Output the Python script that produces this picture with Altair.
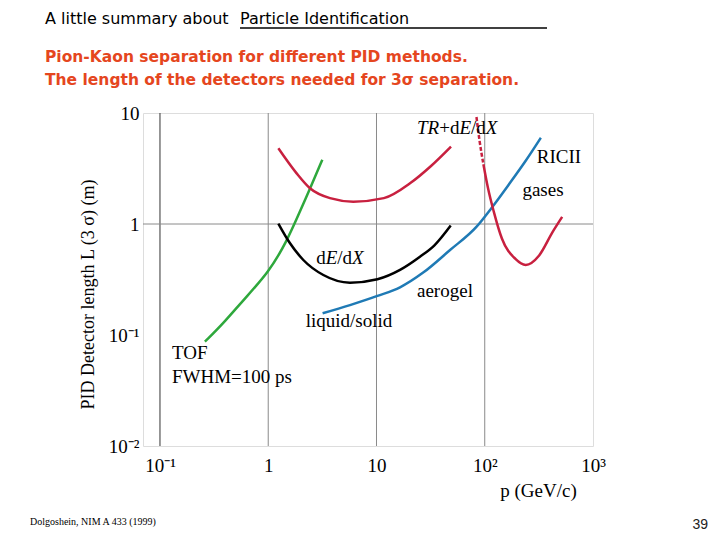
import altair as alt
import pandas as pd

# ---------------- data (p in GeV/c, L in m) ----------------
tof_p = [0.26, 0.384, 0.588, 1.02, 1.48, 1.96, 2.43, 3.16]
tof_L = [0.087, 0.127, 0.206, 0.372, 0.694, 1.29, 2.08, 3.80]

trd_p = [1.24, 1.83, 2.43, 3.72, 6.11, 11.7, 20.7, 31.9, 48.8]
trd_L = [4.81, 2.86, 2.10, 1.71, 1.59, 1.71, 2.35, 3.33, 4.98]

dedx_p = [1.24, 1.59, 2.11, 3.23, 5.69, 10.2, 16.5, 25.2, 34.3, 48.5]
dedx_L = [1.01, 0.67, 0.474, 0.347, 0.296, 0.318, 0.386, 0.507, 0.643, 0.97]

cher_p = [3.18, 5.69, 10.2, 16.5, 27.0, 47.8, 84.1, 112, 167, 239, 330]
cher_L = [0.157, 0.186, 0.225, 0.269, 0.365, 0.583, 0.946, 1.34, 2.27, 3.71, 5.98]

gas_dash_p = [83.9, 89.3, 97.2]
gas_dash_L = [9.2, 5.73, 3.46]
gas_p = [97.2, 107, 121, 144, 192, 239, 318, 424, 519]
gas_L = [3.46, 2.12, 1.30, 0.74, 0.485, 0.428, 0.521, 0.85, 1.16]

grid_p = [0.1, 1, 10, 100]
grid_L = [1]

x_ticks = [0.1, 1, 10, 100, 1000]
y_ticks = [0.01, 0.1, 1, 10]

simple_labels = ["RICII", "gases", "aerogel", "liquid/solid"]
simple_p = [485, 345, 42.9, 5.57]
simple_L = [4.02, 2.02, 0.249, 0.134]

left_labels = ["TOF", "FWHM=100 ps"]
left_p = [0.129, 0.129]
left_L = [0.0689, 0.0419]

heading_a = "A little summary about"
heading_b = "Particle Identification"
sub_lines = ["Pion-Kaon separation for different PID methods.",
             "The length of the detectors needed for 3σ separation."]
footnote = "Dolgoshein, NIM A 433 (1999)"
page_no = "39"

SERIF = "Liberation Serif"
FS = 19

xs = alt.Scale(type="log", domain=[0.0697, 1000], nice=False)
ys = alt.Scale(type="log", domain=[0.01, 10], nice=False)

xaxis = alt.Axis(
    values=x_ticks, grid=False, ticks=False, domain=False, labelFlush=False,
    labelOverlap=False,
    labelExpr="datum.value == 0.1 ? '10⁻¹' : datum.value == 1 ? '1' : datum.value == 10 ? '10' : datum.value == 100 ? '10²' : '10³'",
    labelFont=SERIF, labelFontSize=FS, labelColor="black", labelPadding=10,
    title="p (GeV/c)", titleFont=SERIF, titleFontSize=FS, titleFontWeight="normal",
    titleColor="black", titleX=395, titleY=44, titleAlign="center", titleBaseline="middle",
)
yaxis = alt.Axis(
    values=y_ticks, grid=False, ticks=False, domain=False, labelFlush=False,
    labelOverlap=False,
    labelExpr="datum.value == 0.01 ? '10⁻²' : datum.value == 0.1 ? '10⁻¹' : datum.value == 1 ? '1' : '10'",
    labelFont=SERIF, labelFontSize=FS, labelColor="black", labelPadding=4,
    title="PID Detector length L (3 σ)  (m)", titleFont=SERIF, titleFontSize=18,
    titleFontWeight="normal", titleColor="black", titleX=-55, titleY=181,
    titleAngle=270, titleAlign="center", titleBaseline="middle",
)


def X(field="p"):
    return alt.X(f"{field}:Q", scale=xs, axis=xaxis)


def Y(field="L"):
    return alt.Y(f"{field}:Q", scale=ys, axis=yaxis)


def curve(ps, Ls, color, dash=None, interp="monotone"):
    df = pd.DataFrame({"p": ps, "L": Ls})
    kw = dict(color=color, strokeWidth=2.5, interpolate=interp)
    if dash:
        kw["strokeDash"] = dash
    return alt.Chart(df).mark_line(**kw).encode(x=X(), y=Y())


layers = []

# gridlines
layers.append(
    alt.Chart(pd.DataFrame({"p": grid_p[:1]})).mark_rule(color="#333", strokeWidth=1).encode(x=X())
)
layers.append(
    alt.Chart(pd.DataFrame({"p": grid_p[1:]})).mark_rule(color="#8a8a8a", strokeWidth=1).encode(x=X())
)
layers.append(
    alt.Chart(pd.DataFrame({"L": grid_L})).mark_rule(color="#8a8a8a", strokeWidth=1).encode(y=Y())
)

RED = "#c8203f"
layers += [
    curve(tof_p, tof_L, "#2ea83c", interp="basis"),
    curve(trd_p, trd_L, RED),
    curve(dedx_p, dedx_L, "black"),
    curve(cher_p, cher_L, "#1f7ab5"),
    curve(gas_dash_p, gas_dash_L, RED, dash=[4, 2]),
    curve(gas_p, gas_L, RED),
]

# simple labels
layers.append(
    alt.Chart(pd.DataFrame({"p": simple_p, "L": simple_L, "t": simple_labels}))
    .mark_text(font=SERIF, fontSize=FS, align="center", baseline="middle", color="black")
    .encode(x=X(), y=Y(), text="t:N")
)
layers.append(
    alt.Chart(pd.DataFrame({"p": left_p, "L": left_L, "t": left_labels}))
    .mark_text(font=SERIF, fontSize=FS, align="left", baseline="middle", color="black")
    .encode(x=X(), y=Y(), text="t:N")
)

# rich labels (mixed italic) : (text, style); widths in em (Times metrics)
EM = {"d": 0.5, "/": 0.278, "+": 0.564, "E": 0.611, "X": 0.611, "T": 0.556, "R": 0.611}


def rich(p, L, segs, anchor="center"):
    widths = [sum(EM[c] for c in s) * FS for s, _ in segs]
    total = sum(widths)
    start = -total / 2 if anchor == "center" else 0
    out = []
    cum = start
    for (s, style), w in zip(segs, widths):
        df = pd.DataFrame({"p": [p], "L": [L], "t": [s]})
        out.append(
            alt.Chart(df)
            .mark_text(font=SERIF, fontSize=FS, fontStyle=style, align="left",
                       baseline="middle", dx=cum, color="black")
            .encode(x=X(), y=Y(), text="t:N")
        )
        cum += w
    return out


layers += rich(4.6, 0.494, [("d", "normal"), ("E", "italic"), ("/d", "normal"), ("X", "italic")])
layers += rich(23.7, 7.33, [("TR", "italic"), ("+d", "normal"), ("E", "italic"),
                            ("/d", "normal"), ("X", "italic")], anchor="left")

one = pd.DataFrame({"a": [0]})
# heading and subtitles (slide text)
layers.append(
    alt.Chart(one).mark_text(font="DejaVu Sans", fontSize=16, align="left", baseline="middle", color="black")
    .encode(x=alt.value(-98), y=alt.value(-94), text=alt.value(heading_a))
)
layers.append(
    alt.Chart(one).mark_text(font="DejaVu Sans", fontSize=16, align="left", baseline="middle", color="black")
    .encode(x=alt.value(97), y=alt.value(-94), text=alt.value(heading_b))
)
layers.append(
    alt.Chart(one).mark_rule(color="black", strokeWidth=1.5)
    .encode(x=alt.value(97), x2=alt.value(404), y=alt.value(-85))
)
for i, line in enumerate(sub_lines):
    layers.append(
        alt.Chart(one).mark_text(font="DejaVu Sans", fontSize=15.5, fontWeight="bold",
                                 align="left", baseline="middle", color="#e5461e")
        .encode(x=alt.value(-98), y=alt.value(-56 + 23 * i), text=alt.value(line))
    )
# footnotes
layers.append(
    alt.Chart(one).mark_text(font=SERIF, fontSize=10, align="left", baseline="middle", color="black")
    .encode(x=alt.value(-113), y=alt.value(409), text=alt.value(footnote))
)
layers.append(
    alt.Chart(one).mark_text(font="Liberation Sans", fontSize=14, align="right", baseline="middle", color="#222")
    .encode(x=alt.value(565), y=alt.value(412), text=alt.value(page_no))
)

chart = alt.layer(*layers).properties(
    width=450,
    height=333,
    autosize=alt.AutoSizeParams(type="none"),
    padding={"left": 135, "top": 105, "right": 118, "bottom": 86},
).configure_view(stroke="#444", strokeWidth=1).configure(background="white")

chart.save("out.html", embed_options={"renderer": "svg", "actions": False})
